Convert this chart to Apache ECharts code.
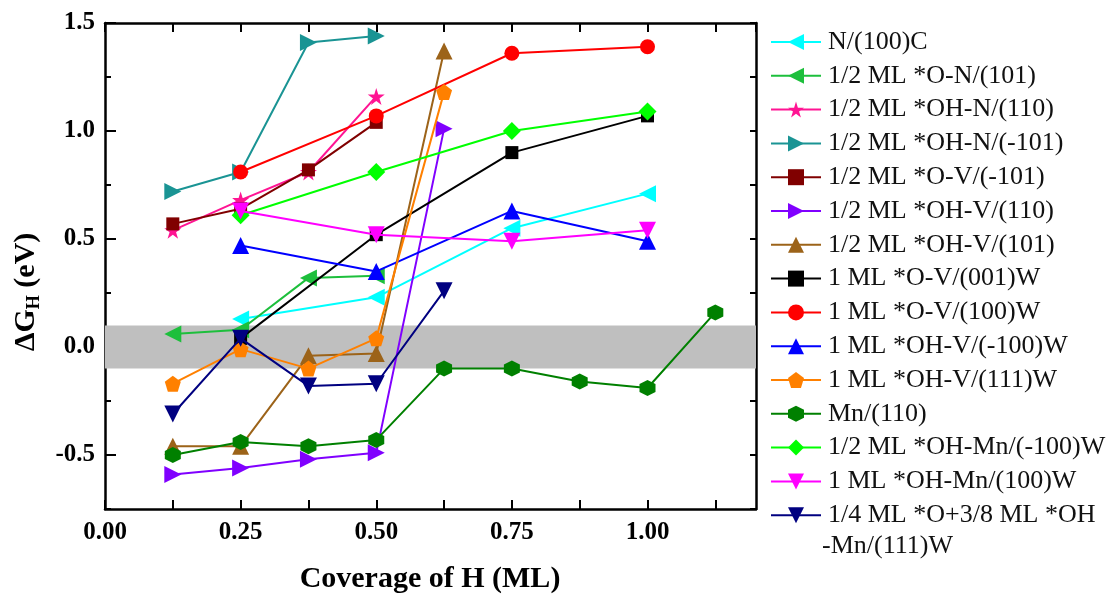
<!DOCTYPE html>
<html>
<head>
<meta charset="utf-8">
<title>ΔG_H vs coverage of H</title>
<script src="https://cdn.jsdelivr.net/npm/echarts@6/dist/echarts.min.js"></script>
<style>
  html, body { margin: 0; padding: 0; background: #fff; }
  #chart { width: 1118px; height: 594px; }
</style>
</head>
<body>
<div id="chart"></div>
<script>
// ---- data: hydrogen adsorption free energy (eV) vs. H coverage (ML) ----
const seriesNames = [
  'N/(100)C',
  '1/2 ML *O-N/(101)',
  '1/2 ML *OH-N/(110)',
  '1/2 ML *OH-N/(-101)',
  '1/2 ML *O-V/(-101)',
  '1/2 ML *OH-V/(110)',
  '1/2 ML *OH-V/(101)',
  '1 ML *O-V/(001)W',
  '1 ML *O-V/(100)W',
  '1 ML *OH-V/(-100)W',
  '1 ML *OH-V/(111)W',
  'Mn/(110)',
  '1/2 ML *OH-Mn/(-100)W',
  '1 ML *OH-Mn/(100)W',
  '1/4 ML *O+3/8 ML *OH-Mn/(111)W'
];

const xQuarter = [0.25, 0.5, 0.75, 1.0];
const xEighthTo4 = [0.125, 0.25, 0.375, 0.5];
const xEighthTo5 = [0.125, 0.25, 0.375, 0.5, 0.625];
const xMn110 = [0.125, 0.25, 0.375, 0.5, 0.625, 0.75, 0.875, 1.0, 1.125];

const yN100C      = [0.13, 0.23, 0.55, 0.71];
const yON101      = [0.06, 0.08, 0.32, 0.33];
const yOHN110     = [0.54, 0.68, 0.81, 1.16];
const yOHNm101    = [0.72, 0.81, 1.41, 1.44];
const yOVm101     = [0.57, 0.64, 0.82, 1.04];
const yOHV110     = [-0.59, -0.56, -0.52, -0.49, 1.01];
const yOHV101     = [-0.46, -0.46, -0.04, -0.03, 1.37];
const yOV001W     = [0.04, 0.52, 0.90, 1.07];
const yOV100W     = [0.81, 1.07, 1.36, 1.39];
const yOHVm100W   = [0.47, 0.35, 0.63, 0.49];
const yOHV111W    = [-0.17, -0.01, -0.10, 0.04, 1.18];
const yMn110      = [-0.50, -0.44, -0.46, -0.43, -0.10, -0.10, -0.16, -0.19, 0.16];
const yOHMnm100W  = [0.61, 0.81, 1.00, 1.09];
const yOHMn100W   = [0.63, 0.52, 0.49, 0.54];
const yOOHMn111W  = [-0.31, 0.04, -0.18, -0.17, 0.26];

// optimal window |ΔG_H| <= 0.1 eV
const bandLow = -0.1;
const bandHigh = 0.1;

// ---- marker shapes ----
const SYM = {
  triLeft:  'path://M0,50 L100,0 L100,100 Z',
  triRight: 'path://M100,50 L0,0 L0,100 Z',
  triUp:    'path://M50,0 L100,100 L0,100 Z',
  triDown:  'path://M0,0 L100,0 L50,100 Z',
  star:     'path://M50,0 L61.23,34.55 L97.55,34.55 L68.16,55.9 L79.39,90.45 L50,69.1 L20.61,90.45 L31.84,55.9 L2.45,34.55 L38.77,34.55 Z',
  pentagon: 'path://M50,0 L97.55,34.55 L79.39,90.45 L20.61,90.45 L2.45,34.55 Z',
  hexagon:  'path://M50,0 L93.3,25 L93.3,75 L50,100 L6.7,75 L6.7,25 Z',
  square:   'rect',
  circle:   'circle',
  diamond:  'diamond'
};

const seriesDefs = [
  { x: xQuarter,   y: yN100C,     color: '#00FFFF', symbol: SYM.triLeft,  size: 17 },
  { x: xEighthTo4, y: yON101,     color: '#1DBF3C', symbol: SYM.triLeft,  size: 17 },
  { x: xEighthTo4, y: yOHN110,    color: '#FF1493', symbol: SYM.star,     size: 17 },
  { x: xEighthTo4, y: yOHNm101,   color: '#1A9494', symbol: SYM.triRight, size: 17 },
  { x: xEighthTo4, y: yOVm101,    color: '#800000', symbol: SYM.square,   size: 13 },
  { x: xEighthTo5, y: yOHV110,    color: '#8000FF', symbol: SYM.triRight, size: 17 },
  { x: xEighthTo5, y: yOHV101,    color: '#9C6319', symbol: SYM.triUp,    size: 17 },
  { x: xQuarter,   y: yOV001W,    color: '#000000', symbol: SYM.square,   size: 13 },
  { x: xQuarter,   y: yOV100W,    color: '#FF0000', symbol: SYM.circle,   size: 15 },
  { x: xQuarter,   y: yOHVm100W,  color: '#0000FF', symbol: SYM.triUp,    size: 17 },
  { x: xEighthTo5, y: yOHV111W,   color: '#FF8000', symbol: SYM.pentagon, size: 16 },
  { x: xMn110,     y: yMn110,     color: '#008000', symbol: SYM.hexagon,  size: 16 },
  { x: xQuarter,   y: yOHMnm100W, color: '#00FF00', symbol: SYM.diamond,  size: 18 },
  { x: xQuarter,   y: yOHMn100W,  color: '#FF00FF', symbol: SYM.triDown,  size: 17 },
  { x: xEighthTo5, y: yOOHMn111W, color: '#000080', symbol: SYM.triDown,  size: 17 }
];

const FONT = '"Liberation Serif", "Times New Roman", serif';

const lineSeries = seriesDefs.map((d, i) => ({
  name: seriesNames[i],
  type: 'line',
  xAxisIndex: 0,
  yAxisIndex: 0,
  data: d.x.map((xv, k) => [xv, d.y[k]]),
  symbol: d.symbol,
  symbolSize: d.size,
  showAllSymbol: true,
  z: 3 + i,
  lineStyle: { color: d.color, width: 2 },
  itemStyle: { color: d.color, borderWidth: 0 },
  emphasis: { disabled: true }
}));

// grey band behind all curves
const bandSeries = {
  name: 'band',
  type: 'line',
  data: [],
  z: 1,
  silent: true,
  markArea: {
    silent: true,
    itemStyle: { color: '#BFBFBF', opacity: 1 },
    data: [[{ yAxis: bandLow }, { yAxis: bandHigh }]]
  }
};

const isMultiple = (v, step) => Math.abs(v / step - Math.round(v / step)) < 1e-9;

const chart = echarts.init(document.getElementById('chart'), null, { renderer: 'canvas' });

const axisLineStyle = { color: '#000', width: 2.5 };

chart.setOption({
  animation: false,
  backgroundColor: '#fff',
  grid: { left: 105, right: 362, top: 23, bottom: 85, containLabel: false },
  xAxis: [
    {
      type: 'value', position: 'bottom', min: 0, max: 1.2, interval: 0.125,
      axisLine: { show: true, onZero: false, lineStyle: axisLineStyle },
      axisTick: { show: true, inside: true, length: 9, lineStyle: { color: '#000', width: 2 } },
      axisLabel: {
        show: true, margin: 11, showMaxLabel: false,
        color: '#000', fontFamily: FONT, fontWeight: 'bold', fontSize: 25,
        formatter: v => (isMultiple(v, 0.25) ? v.toFixed(2) : '')
      },
      splitLine: { show: false }
    },
    {
      type: 'value', position: 'top', min: 0, max: 1.2, interval: 0.125,
      axisLine: { show: true, onZero: false, lineStyle: axisLineStyle },
      axisTick: { show: true, inside: true, length: 9, lineStyle: { color: '#000', width: 2 } },
      axisLabel: { show: false },
      splitLine: { show: false }
    }
  ],
  yAxis: [
    {
      type: 'value', position: 'left', min: -0.75, max: 1.5, interval: 0.25,
      axisLine: { show: true, onZero: false, lineStyle: axisLineStyle },
      axisTick: { show: true, inside: true, length: 6, lineStyle: { color: '#000', width: 2 } },
      axisLabel: {
        show: true, margin: 10,
        color: '#000', fontFamily: FONT, fontWeight: 'bold', fontSize: 25,
        formatter: v => (isMultiple(v, 0.5) ? v.toFixed(1) : '')
      },
      splitLine: { show: false }
    },
    {
      type: 'value', position: 'left', min: -0.75, max: 1.5, interval: 0.25,
      axisLine: { show: false },
      axisTick: {
        show: true, inside: true, length: 11,
        customValues: [-0.5, 0, 0.5, 1.0, 1.5],
        lineStyle: { color: '#000', width: 2 }
      },
      axisLabel: { show: false },
      splitLine: { show: false }
    },
    {
      type: 'value', position: 'right', min: -0.75, max: 1.5, interval: 0.25,
      axisLine: { show: true, onZero: false, lineStyle: axisLineStyle },
      axisTick: { show: true, inside: true, length: 6, lineStyle: { color: '#000', width: 2 } },
      axisLabel: { show: false },
      splitLine: { show: false }
    }
  ],
  legend: {
    orient: 'vertical',
    left: 765,
    top: 24,
    itemWidth: 50,
    itemHeight: 20,
    itemGap: 7.8,
    selectedMode: false,
    data: seriesNames,
    formatter: name => (name === seriesNames[14] ? '1/4 ML *O+3/8 ML *OH' : name),
    textStyle: {
      fontFamily: FONT, fontSize: 26, lineHeight: 26, color: '#111',
      padding: [0, 0, 0, 2]
    }
  },
  graphic: [
    {
      type: 'text', left: 822, top: 533, silent: true,
      style: { text: '-Mn/(111)W', font: '26px ' + FONT, fill: '#111' }
    },
    {
      type: 'text', x: 430, y: 579, silent: true,
      style: {
        text: 'Coverage of H (ML)',
        font: 'bold 30px ' + FONT, fill: '#000',
        align: 'center', verticalAlign: 'middle'
      }
    },
    {
      type: 'text', x: 26, y: 292, rotation: Math.PI / 2, silent: true,
      style: {
        text: '{m|ΔG}{s|H}{m| (eV)}',
        align: 'center', verticalAlign: 'middle',
        rich: {
          m: { font: 'bold 30px ' + FONT, fill: '#000', lineHeight: 34 },
          s: { font: 'bold 18px ' + FONT, fill: '#000', padding: [16, 0, 0, 0] }
        }
      }
    }
  ],
  series: [bandSeries].concat(lineSeries)
});
</script>
</body>
</html>
